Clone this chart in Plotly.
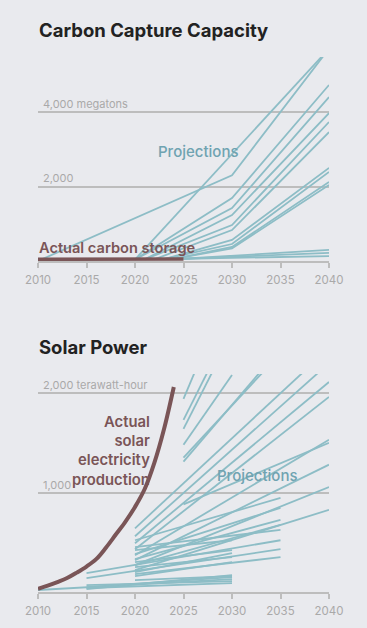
import plotly.graph_objects as go

# ---------------- DATA ----------------
x_ticks = [2010, 2015, 2020, 2025, 2030, 2035, 2040]

carbon_actual_years = [2010, 2015, 2020, 2025]
carbon_actual_values = [45, 50, 50, 55]

# each projection: list of years and list of values (megatons)
carbon_proj_years = [
    [2010, 2030, 2040],
    [2020, 2040],
    [2020, 2030, 2040],
    [2020, 2030, 2040],
    [2021, 2030, 2040],
    [2021, 2030, 2040],
    [2022, 2030, 2040],
    [2023, 2030, 2040],
    [2023, 2030, 2040],
    [2024, 2030, 2040],
    [2024, 2030, 2040],
    [2025, 2040],
    [2025, 2040],
    [2025, 2040],
]
carbon_proj_values = [
    [0, 2300, 5700],
    [40, 5700],
    [40, 1690, 4725],
    [40, 1420, 4400],
    [45, 1235, 3970],
    [45, 966, 3730],
    [45, 830, 3460],
    [50, 564, 2500],
    [50, 456, 2390],
    [55, 376, 2120],
    [55, 340, 2040],
    [60, 300],
    [60, 220],
    [60, 130],
]

solar_actual_years = list(range(2010, 2025))
solar_actual_values = [32, 64, 100, 140, 195, 256, 330, 445, 575, 705, 855, 1035, 1300, 1640, 2060]

# each projection: start year, end year, start value, end value (TWh)
solar_proj_start_year = [
    2010, 2015, 2015, 2015, 2015, 2020,
    2020, 2020, 2020, 2020, 2020,
    2020, 2020, 2020, 2020, 2020, 2015, 2015, 2020,
    2020, 2020, 2020, 2020, 2020, 2025, 2020, 2020, 2020,
    2025, 2025, 2025, 2025, 2025, 2025,
]
solar_proj_end_year = [
    2030, 2030, 2030, 2030, 2030, 2030,
    2030, 2030, 2030, 2030, 2030,
    2035, 2035, 2035, 2035, 2035, 2035, 2035, 2035,
    2040, 2040, 2040, 2040, 2040, 2040, 2040, 2040, 2040,
    2030, 2030, 2030, 2030, 2035, 2035,
]
solar_proj_start_value = [
    20, 30, 50, 70, 40, 120,
    420, 300, 200, 250, 160,
    520, 380, 330, 270, 450, 190, 140, 180,
    640, 560, 490, 430, 370, 880, 320, 270, 220,
    1940, 1730, 1640, 1480, 1350, 1310,
]
solar_proj_end_value = [
    130, 170, 150, 110, 90, 160,
    520, 420, 390, 350, 300,
    945, 845, 725, 675, 625, 520, 430, 350,
    2450, 2300, 2110, 1960, 1530, 1500, 1280, 1055, 825,
    3100, 2700, 2600, 2180, 2400, 2450,
]

# ---------------- STYLE ----------------
W, H = 367, 628
BG = "#e9eaee"
TEAL = "#8dbdc6"
TEAL_TXT = "#6fa3b1"
BROWN = "#7a5557"
GRID = "#bdbdbd"
LABEL = "#a9a9a9"
DARK = "#222222"
FONT = "Inter"


def px(x):
    return x / W


def py(y):
    return 1 - y / H


fig = go.Figure()

# top chart: carbon capture
for yrs, vals in zip(carbon_proj_years, carbon_proj_values):
    fig.add_trace(go.Scatter(x=yrs, y=vals, mode="lines", xaxis="x", yaxis="y",
                             line=dict(color=TEAL, width=1.8), hoverinfo="skip", showlegend=False))
fig.add_trace(go.Scatter(x=carbon_actual_years, y=carbon_actual_values, mode="lines", xaxis="x", yaxis="y",
                         line=dict(color=BROWN, width=3.5), hoverinfo="skip", showlegend=False))

# bottom chart: solar
for sy, ey, sv, ev in zip(solar_proj_start_year, solar_proj_end_year, solar_proj_start_value, solar_proj_end_value):
    fig.add_trace(go.Scatter(x=[sy, ey], y=[sv, ev], mode="lines", xaxis="x2", yaxis="y2",
                             line=dict(color=TEAL, width=1.8), hoverinfo="skip", showlegend=False))
fig.add_trace(go.Scatter(x=solar_actual_years, y=solar_actual_values, mode="lines", xaxis="x2", yaxis="y2",
                         line=dict(color=BROWN, width=4, shape="spline"), hoverinfo="skip", showlegend=False))

xdom = [px(38), px(329)]
xaxis_common = dict(
    domain=xdom, range=[2010, 2040], tickvals=x_ticks, ticktext=[str(t) for t in x_ticks],
    showgrid=False, zeroline=False, showline=True, linecolor=GRID, linewidth=1.5,
    ticks="outside", ticklen=5, tickwidth=1.5, tickcolor=GRID, automargin=False,
    ticklabelstandoff=2,
    tickfont=dict(family=FONT, size=11.5, color=LABEL), fixedrange=True,
)
yaxis_common = dict(showticklabels=False, showgrid=True, gridcolor=GRID, gridwidth=1.5, zeroline=False,
                    showline=False, ticks="", fixedrange=True, automargin=False)
fig.update_layout(
    width=W, height=H, margin=dict(l=0, r=0, t=0, b=0, autoexpand=False),
    paper_bgcolor=BG, plot_bgcolor=BG,
    xaxis=dict(anchor="y", **xaxis_common),
    yaxis=dict(domain=[py(261), py(57)], range=[0, 2000 * 204 / 74.5], tickvals=[2000, 4000],
               anchor="x", **yaxis_common),
    xaxis2=dict(anchor="y2", **xaxis_common),
    yaxis2=dict(domain=[py(592), py(374)], range=[0, 1000 * 218 / 99.5], tickvals=[1000, 2000],
                anchor="x2", **yaxis_common),
)

ann = []


def text(x, y, s, size, color, xanchor="left", weight=400, align="left"):
    ann.append(dict(xref="paper", yref="paper", x=px(x), y=py(y), text=s, showarrow=False,
                    xanchor=xanchor, yanchor="middle", align=align,
                    font=dict(family=FONT, size=size, color=color, weight=weight)))


text(37, 30, "Carbon Capture Capacity", 18.5, DARK, weight=700)
text(37, 347, "Solar Power", 18.5, DARK, weight=700)
text(41, 104, "4,000 megatons", 11, LABEL)
text(41, 178, "2,000", 11, LABEL)
text(41, 385, "2,000 terawatt-hour", 11, LABEL)
text(41, 485, "1,000", 11, LABEL)
text(198, 152, "Projections", 15, TEAL_TXT, xanchor="center", weight=500)
text(257, 475, "Projections", 15, TEAL_TXT, xanchor="center", weight=500)
text(37, 248, "Actual carbon storage", 14.6, BROWN, weight=600)
text(152, 451, "Actual<br>solar<br>electricity<br>production", 14.8, BROWN, xanchor="right",
     weight=600, align="right")

fig.update_layout(annotations=ann)
fig.write_html("out.html")
